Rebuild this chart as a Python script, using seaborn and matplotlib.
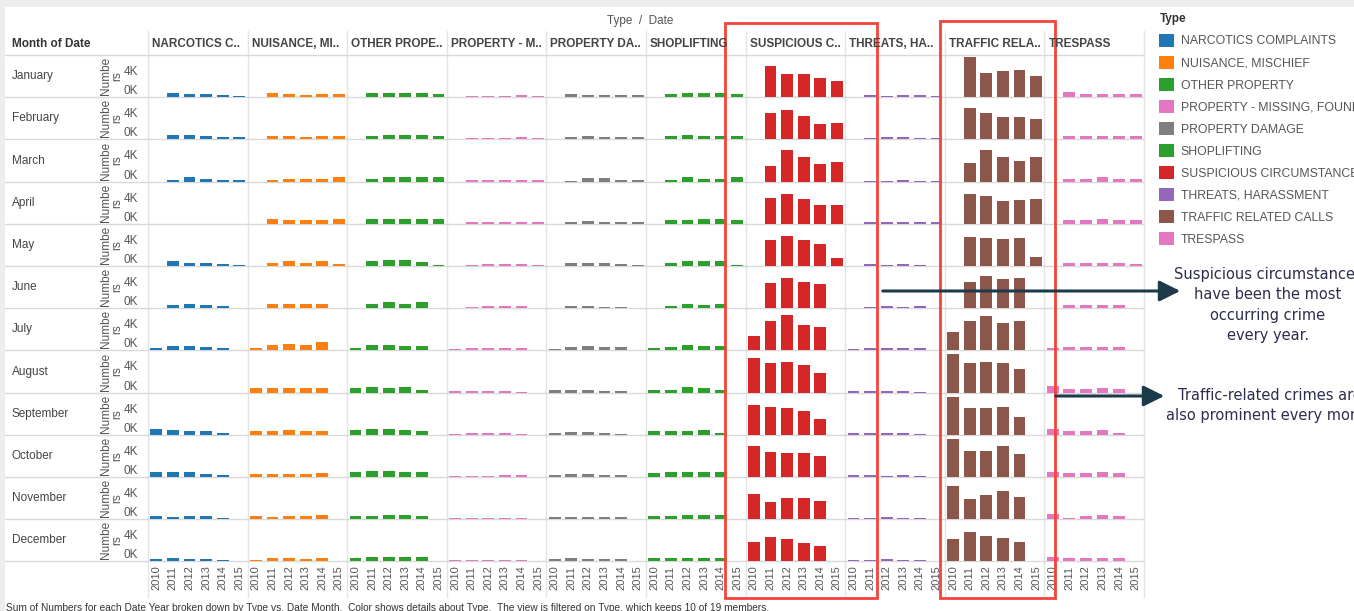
import pandas as pd
import seaborn as sns
import matplotlib.pyplot as plt
from matplotlib.patches import Rectangle, Patch, FancyArrowPatch
from matplotlib.lines import Line2D

W, H = 1354, 611

MONTHS = ['January', 'February', 'March', 'April', 'May', 'June', 'July',
          'August', 'September', 'October', 'November', 'December']
YEARS = ['2010', '2011', '2012', '2013', '2014', '2015']
# rows Jan-Jun hold 2011-2015, rows Jul-Dec hold 2010-2014 (values in thousands)

TYPES = ['NARCOTICS COMPLAINTS', 'NUISANCE, MISCHIEF', 'OTHER PROPERTY',
         'PROPERTY - MISSING, FOUND', 'PROPERTY DAMAGE', 'SHOPLIFTING',
         'SUSPICIOUS CIRCUMSTANCES', 'THREATS, HARASSMENT',
         'TRAFFIC RELATED CALLS', 'TRESPASS']
HEADERS = ['NARCOTICS C..', 'NUISANCE, MI..', 'OTHER PROPE..', 'PROPERTY - M..',
           'PROPERTY DA..', 'SHOPLIFTING', 'SUSPICIOUS C..', 'THREATS, HA..',
           'TRAFFIC RELA..', 'TRESPASS']
COLORS = ['#1f77b4', '#ff7f0e', '#2ca02c', '#e377c2', '#7f7f7f',
          '#2ca02c', '#d62728', '#9467bd', '#8c564b', '#e377c2']

N = None
NARCOTICS = [
    [0.7, 0.5, 0.5, 0.35, 0.2], [0.7, 0.7, 0.45, 0.35, 0.35], [0.3, 0.65, 0.45, 0.3, 0.3],
    [N, N, N, N, N], [0.7, 0.5, 0.5, 0.35, 0.2], [0.5, 0.7, 0.5, 0.35, N],
    [0.3, 0.65, 0.65, 0.45, 0.3], [N, N, N, N, N], [0.8, 0.65, 0.5, 0.5, 0.2],
    [0.7, 0.7, 0.7, 0.5, 0.3], [0.45, 0.3, 0.45, 0.45, 0.25], [0.3, 0.45, 0.3, 0.3, 0.25],
]
NUISANCE = [
    [0.7, 0.5, 0.3, 0.5, 0.5], [0.45, 0.45, 0.3, 0.45, 0.45], [0.3, 0.45, 0.45, 0.45, 0.65],
    [0.65, 0.5, 0.5, 0.5, 0.65], [0.5, 0.7, 0.5, 0.7, 0.35], [0.65, 0.65, 0.65, 0.65, N],
    [0.3, 0.8, 0.95, 0.8, 1.25], [0.65, 0.65, 0.65, 0.65, 0.65], [0.5, 0.5, 0.65, 0.5, 0.5],
    [0.5, 0.5, 0.5, 0.5, 0.65], [0.5, 0.3, 0.5, 0.5, 0.65], [0.25, 0.5, 0.5, 0.3, 0.5],
]
OTHER_PROPERTY = [
    [0.7, 0.7, 0.7, 0.7, 0.5], [0.45, 0.65, 0.65, 0.65, 0.45], [0.45, 0.65, 0.65, 0.65, 0.65],
    [0.65, 0.65, 0.65, 0.65, 0.65], [0.7, 0.9, 0.9, 0.65, 0.2], [0.7, 0.9, 0.7, 0.9, N],
    [0.3, 0.8, 0.8, 0.65, 0.65], [0.65, 0.9, 0.65, 0.9, 0.45], [0.65, 0.8, 0.8, 0.65, 0.5],
    [0.7, 0.95, 0.95, 0.7, 0.7], [0.5, 0.5, 0.65, 0.65, 0.5], [0.45, 0.7, 0.7, 0.7, 0.7],
]
PROPERTY_MISSING = [
    [0.2, 0.2, 0.2, 0.3, 0.2], [0.2, 0.2, 0.2, 0.3, 0.2], [0.2, 0.2, 0.3, 0.2, 0.3],
    [0.2, 0.2, 0.3, 0.3, 0.3], [0.2, 0.3, 0.3, 0.3, 0.15], [0.15, 0.3, 0.3, 0.3, N],
    [0.15, 0.3, 0.3, 0.3, 0.3], [0.3, 0.3, 0.3, 0.3, 0.15], [0.15, 0.3, 0.3, 0.3, 0.15],
    [0.15, 0.15, 0.15, 0.3, 0.3], [0.15, 0.15, 0.15, 0.15, 0.15], [0.15, 0.15, 0.15, 0.15, 0.15],
]
PROPERTY_DAMAGE = [
    [0.5, 0.3, 0.3, 0.3, 0.3], [0.3, 0.45, 0.3, 0.3, 0.3], [0.15, 0.5, 0.5, 0.3, 0.3],
    [0.3, 0.45, 0.3, 0.3, 0.3], [0.5, 0.5, 0.5, 0.3, 0.15], [0.3, 0.3, 0.2, 0.2, N],
    [0.15, 0.45, 0.65, 0.45, 0.45], [0.45, 0.45, 0.45, 0.3, 0.3], [0.3, 0.45, 0.45, 0.3, 0.15],
    [0.3, 0.45, 0.45, 0.3, 0.3], [0.3, 0.3, 0.3, 0.3, 0.3], [0.3, 0.45, 0.3, 0.3, 0.3],
]
SHOPLIFTING = [
    [0.5, 0.7, 0.7, 0.7, 0.5], [0.45, 0.65, 0.45, 0.45, 0.45], [0.3, 0.65, 0.45, 0.45, 0.65],
    [0.5, 0.5, 0.65, 0.65, 0.5], [0.5, 0.7, 0.7, 0.7, 0.15], [0.3, 0.7, 0.5, 0.7, N],
    [0.3, 0.45, 0.8, 0.65, 0.65], [0.45, 0.45, 0.8, 0.65, 0.45], [0.5, 0.5, 0.5, 0.65, 0.3],
    [0.65, 0.8, 0.8, 0.8, 0.8], [0.5, 0.5, 0.65, 0.65, 0.65], [0.5, 0.5, 0.5, 0.5, 0.5],
]
SUSPICIOUS = [
    [4.6, 3.45, 3.45, 2.8, 2.35], [3.9, 4.45, 3.45, 2.25, 2.5], [2.3, 4.65, 3.7, 2.7, 3.0],
    [3.85, 4.5, 3.7, 2.85, 2.85], [3.85, 4.5, 3.85, 3.35, 1.2], [3.7, 4.5, 3.85, 3.55, N],
    [2.15, 4.35, 5.3, 3.8, 3.5], [5.1, 4.45, 4.6, 4.1, 2.95], [4.45, 4.1, 3.95, 3.6, 2.3],
    [4.6, 3.8, 3.6, 3.6, 3.15], [3.75, 2.6, 3.1, 3.1, 2.75], [2.85, 3.7, 3.35, 2.7, 2.35],
]
THREATS = [
    [0.3, 0.15, 0.3, 0.3, 0.15], [0.15, 0.3, 0.3, 0.15, 0.15], [0.15, 0.15, 0.3, 0.15, 0.15],
    [0.3, 0.3, 0.3, 0.3, 0.3], [0.3, 0.2, 0.3, 0.15, N], [0.15, 0.3, 0.15, 0.3, N],
    [0.15, 0.3, 0.3, 0.3, 0.3], [0.3, 0.3, 0.3, 0.3, 0.15], [0.3, 0.3, 0.3, 0.3, 0.15],
    [0.3, 0.3, 0.15, 0.3, 0.15], [0.15, 0.15, 0.3, 0.15, 0.15], [0.15, 0.15, 0.3, 0.15, 0.15],
]
TRAFFIC = [
    [6.0, 3.6, 3.85, 4.0, 3.2], [4.65, 3.9, 3.3, 3.3, 3.1], [2.85, 4.65, 3.7, 3.05, 3.65],
    [4.5, 4.2, 3.35, 3.5, 3.7], [4.35, 4.2, 4.05, 4.2, 1.4], [3.85, 4.85, 4.35, 4.5, N],
    [2.8, 4.35, 5.15, 4.15, 4.35], [5.8, 4.45, 4.6, 4.45, 3.45], [5.6, 3.95, 3.95, 4.1, 2.6],
    [5.6, 3.95, 3.95, 4.6, 3.45], [4.95, 2.95, 3.6, 4.25, 3.25], [3.35, 4.35, 3.85, 3.5, 2.85],
]
TRESPASS = [
    [0.75, 0.5, 0.5, 0.5, 0.5], [0.5, 0.5, 0.5, 0.5, 0.5], [0.4, 0.4, 0.65, 0.4, 0.4],
    [0.5, 0.5, 0.7, 0.5, 0.5], [0.5, 0.5, 0.5, 0.5, 0.35], [0.5, 0.5, 0.5, 0.5, N],
    [0.4, 0.5, 0.5, 0.5, 0.5], [1.0, 0.5, 0.5, 0.65, 0.5], [0.85, 0.5, 0.5, 0.65, 0.3],
    [0.8, 0.55, 0.55, 0.7, 0.55], [0.8, 0.25, 0.5, 0.65, 0.5], [0.7, 0.5, 0.5, 0.5, 0.5],
]
SERIES = [NARCOTICS, NUISANCE, OTHER_PROPERTY, PROPERTY_MISSING, PROPERTY_DAMAGE,
          SHOPLIFTING, SUSPICIOUS, THREATS, TRAFFIC, TRESPASS]

# long table: one row per (type, month, year)
records = []
for t, vals in zip(TYPES, SERIES):
    for m, month in enumerate(MONTHS):
        yrs = YEARS[1:] if m < 6 else YEARS[:5]
        for y, v in zip(yrs, vals[m]):
            if v is not None:
                records.append({'Type': t, 'Month': month, 'Year': y, 'Numbers': v * 1000})
df = pd.DataFrame(records)

sns.set_style('white')
plt.rcParams['font.family'] = ['Liberation Sans', 'DejaVu Sans']

# layout in pixels
X0, PW = 148, 99.6
Y0, PH = 55, 42.2
TXT = '#555555'


def fx(x):
    return x / W


def fy(y):
    return 1 - y / H


fig = plt.figure(figsize=(W / 100, H / 100), dpi=100)
fig.patch.set_facecolor('#eeedeb')
fig.add_artist(Rectangle((fx(5), 0), 1, fy(7), transform=fig.transFigure,
                         fc='white', ec='none', zorder=-3))

# panel grid lines
for c in range(len(TYPES) + 1):
    x = fx(X0 + c * PW)
    fig.add_artist(Line2D([x, x], [fy(31), fy(597)], transform=fig.transFigure,
                          color='#e4e4e4', lw=1, zorder=-1))
for r in range(len(MONTHS) + 1):
    y = fy(Y0 + r * PH)
    fig.add_artist(Line2D([fx(5), fx(X0 + 10 * PW)], [y, y], transform=fig.transFigure,
                          color='#d9d9d9', lw=1, zorder=-1))

for r, month in enumerate(MONTHS):
    fig.text(fx(12), fy(Y0 + (r + 0.5) * PH), month, fontsize=8.5, color='#444444',
             ha='left', va='center')
    for c, t in enumerate(TYPES):
        ax = fig.add_axes([fx(X0 + c * PW), fy(Y0 + (r + 1) * PH), PW / W, PH / H])
        sub = df[(df['Type'] == t) & (df['Month'] == month)]
        if len(sub):
            sns.barplot(data=sub, x='Year', y='Numbers', order=YEARS, color=COLORS[c],
                        saturation=1, width=0.7, errorbar=None, linewidth=0, ax=ax)
        ax.set_xlim(-0.5, 5.5)
        ax.set_ylim(0, 6300)
        ax.patch.set_visible(False)
        sns.despine(ax=ax, left=True, bottom=True)
        ax.set_xlabel('')
        ax.set_ylabel('')
        if r == len(MONTHS) - 1:
            ax.set_xticks(range(6))
            ax.set_xticklabels(YEARS, rotation=90, fontsize=8, color=TXT)
            ax.set_xticks([0.5, 1.5, 2.5, 3.5, 4.5], minor=True)
            ax.tick_params(axis='x', which='major', length=0, pad=3)
            ax.tick_params(axis='x', which='minor', length=24, color='#e4e4e4', width=0.8)
        else:
            ax.set_xticks([])
        if c == 0:
            ax.set_yticks([0, 2000, 4000])
            ax.set_yticklabels(['0K', '', '4K'], fontsize=8.5, color=TXT)
            ax.get_yticklabels()[0].set_va('bottom')
            ax.tick_params(axis='y', length=5, color='#cfcfcf', pad=2)
            ax.set_ylabel('Numbe\nrs', fontsize=8.5, color=TXT, linespacing=0.95,
                          multialignment='center')
            ax.yaxis.set_label_coords(-0.25, 0.5)
        else:
            ax.set_yticks([])

# headers
fig.text(fx(640), fy(21), 'Type  /  Date', fontsize=8.5, color=TXT, ha='center', va='center')
fig.text(fx(12), fy(44), 'Month of Date', fontsize=8.5, color='#333333', weight='bold',
         ha='left', va='center')
for c, h in enumerate(HEADERS):
    fig.text(fx(X0 + c * PW + 4), fy(44), h, fontsize=8.5, color='#444444', weight='bold',
             ha='left', va='center')

# legend
handles = [Patch(facecolor=col, edgecolor='none', label=t) for t, col in zip(TYPES, COLORS)]
leg = fig.legend(handles=handles, loc='upper left', bbox_to_anchor=(fx(1157), fy(11)),
                 frameon=False, fontsize=8.8, title='Type', alignment='left',
                 handlelength=1.23, handleheight=1.23, labelspacing=0.7,
                 handletextpad=0.5, borderaxespad=0, borderpad=0.2)
leg.get_title().set_fontweight('bold')
leg.get_title().set_fontsize(8.5)
leg.get_title().set_color('#333333')
for txt in leg.get_texts():
    txt.set_color(TXT)

# highlight boxes
for x0, x1, y0 in [(725, 877, 23), (940, 1055, 21)]:
    fig.add_artist(Rectangle((fx(x0), fy(598)), fx(x1 - x0), (598 - y0) / H,
                             transform=fig.transFigure, fill=False, ec='#f4433a', lw=2))

# annotations
NAVY = '#1d3a4a'
for xa, xb, y in [(880, 1183, 291), (1053, 1167, 396)]:
    fig.add_artist(FancyArrowPatch((fx(xa), fy(y)), (fx(xb), fy(y)), transform=fig.transFigure,
                                   arrowstyle='-|>,head_length=0.9,head_width=0.45',
                                   mutation_scale=14, color=NAVY, lw=2.2, zorder=5))
fig.text(fx(1268), fy(305), 'Suspicious circumstances\nhave been the most\noccurring crime\nevery year.',
         fontsize=10.5, family='DejaVu Sans', color='#2d2d4d', ha='center', va='center',
         linespacing=1.45)
fig.text(fx(1270), fy(405.5), 'Traffic-related crimes are\nalso prominent every month',
         fontsize=10.5, family='DejaVu Sans', color='#2d2d4d', ha='center', va='center',
         linespacing=1.45)

fig.text(fx(6), fy(608), 'Sum of Numbers for each Date Year broken down by Type vs. Date Month.  '
         'Color shows details about Type.  The view is filtered on Type, which keeps 10 of 19 members.',
         fontsize=7.3, color='#333333', ha='left', va='center')

fig.savefig('out.png', dpi=100)
